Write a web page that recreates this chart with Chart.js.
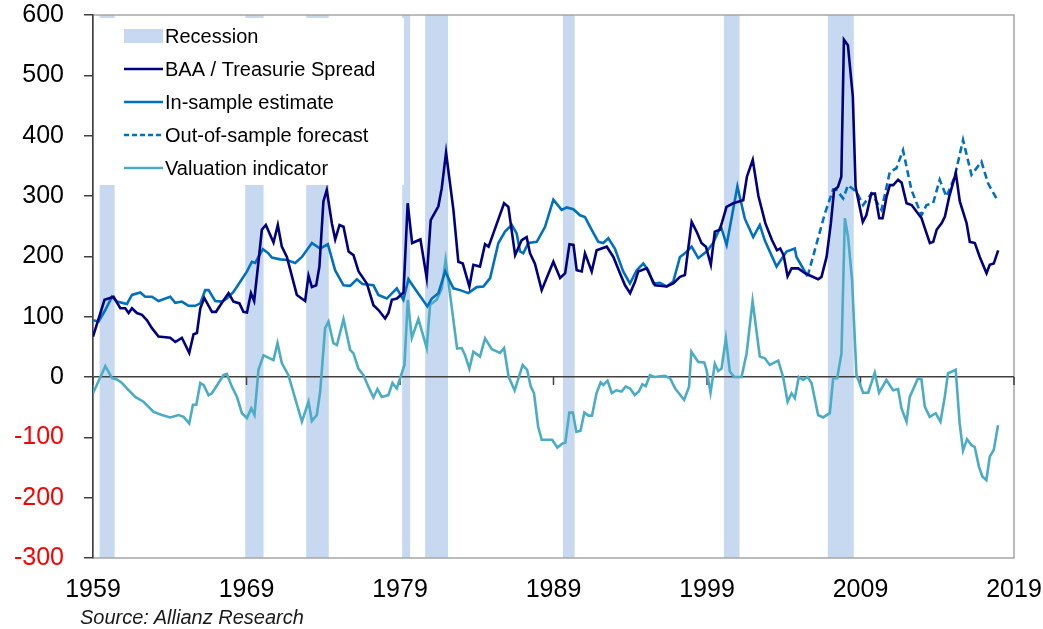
<!DOCTYPE html>
<html>
<head>
<meta charset="utf-8">
<script src="https://cdn.jsdelivr.net/npm/chart.js@4.4.1/dist/chart.umd.min.js"></script>
<style>
  html, body { margin: 0; padding: 0; background: #fff; }
  #wrap { position: relative; width: 1043px; height: 629px; }
  #source { position: absolute; left: 80px; top: 606px; font: italic 20px "Liberation Sans", Arial, sans-serif; color: #1a1a1a; }
</style>
</head>
<body>
<div id="wrap">
  <canvas id="chart"></canvas>
  <div id="source">Source: Allianz Research</div>
</div>
<script>
// x axis labels and recession shading (years as placed on the chart)
const tickYears = [1959, 1969, 1979, 1989, 1999, 2009, 2019];
const recessionStart = [1959.43, 1968.92, 1972.89, 1979.14, 1980.64, 1989.62, 2000.10, 2006.87];
const recessionEnd   = [1960.41, 1970.11, 1974.36, 1979.66, 1982.13, 1990.38, 2001.12, 2008.56];

const legendLabels = ['Recession', 'BAA / Treasurie Spread', 'In-sample estimate', 'Out-of-sample forecast', 'Valuation indicator'];

// BAA / Treasury spread (bp)
const baaYears = [1959.00,1959.75,1960.34,1960.78,1961.10,1961.32,1961.54,1961.86,1962.19,1962.52,1962.84,1963.27,1964.03,1964.36,1964.79,1965.27,1965.55,1965.77,1965.99,1966.25,1966.75,1967.01,1967.40,1967.83,1968.15,1968.54,1968.80,1969.03,1969.29,1969.50,1969.78,1970.00,1970.26,1970.76,1971.04,1971.30,1971.63,1972.28,1972.82,1973.04,1973.26,1973.54,1973.75,1974.01,1974.23,1974.56,1974.78,1975.06,1975.32,1975.65,1975.97,1976.30,1976.84,1977.27,1977.60,1978.03,1978.25,1978.47,1978.80,1979.23,1979.50,1979.79,1980.33,1980.74,1981.00,1981.50,1981.72,1982.00,1982.48,1982.80,1983.09,1983.52,1983.78,1984.21,1984.54,1984.77,1985.08,1985.78,1986.06,1986.50,1986.93,1987.25,1987.47,1987.79,1988.23,1988.99,1989.43,1989.76,1990.04,1990.30,1990.51,1990.84,1991.05,1991.49,1991.81,1992.47,1992.90,1993.33,1993.66,1993.99,1994.31,1994.52,1995.07,1995.28,1995.61,1996.37,1996.80,1997.24,1997.56,1998.00,1998.32,1998.64,1998.93,1999.25,1999.51,1999.84,2000.27,2000.71,2001.36,2001.60,2001.98,2002.35,2002.80,2003.23,2003.56,2003.77,2003.99,2004.25,2004.51,2004.94,2005.38,2005.81,2006.24,2006.46,2006.79,2007.07,2007.28,2007.53,2007.75,2007.92,2008.18,2008.50,2008.68,2009.15,2009.38,2009.70,2009.94,2010.22,2010.44,2010.70,2010.91,2011.13,2011.45,2011.68,2012.00,2012.33,2012.66,2012.98,2013.20,2013.52,2013.74,2013.96,2014.29,2014.50,2014.78,2015.21,2015.47,2015.91,2016.12,2016.45,2016.77,2017.21,2017.42,2017.68,2017.97];
const baaValues = [67,128,133,114,114,106,114,106,103,94,81,67,65,58,65,40,71,73,114,131,108,108,123,139,125,122,108,107,139,126,191,244,252,223,252,216,199,136,126,168,149,152,183,291,310,255,228,252,249,208,202,175,155,119,111,97,106,128,130,140,288,222,228,164,260,283,313,372,277,191,188,150,186,183,220,216,238,288,282,202,227,232,205,188,144,191,164,172,220,219,177,175,205,175,210,216,199,172,152,139,158,175,180,169,152,150,155,166,169,257,241,222,216,186,241,244,282,288,293,332,360,300,255,227,210,213,202,167,180,180,172,167,162,166,199,255,310,315,332,559,550,465,315,257,268,304,304,263,263,299,318,318,327,322,288,285,274,263,246,222,224,244,255,266,299,338,291,255,224,222,199,172,186,188,210];

// In-sample estimate
const inSampleYears = [1959.00,1959.36,1959.80,1960.24,1960.56,1961.21,1961.54,1962.08,1962.40,1962.84,1963.27,1964.03,1964.36,1964.79,1965.22,1965.66,1965.99,1966.31,1966.53,1966.96,1967.40,1967.72,1968.15,1968.59,1969.03,1969.35,1969.57,1969.78,1970.07,1970.43,1970.65,1971.19,1971.63,1972.17,1972.61,1973.26,1973.80,1974.30,1974.77,1975.32,1975.75,1976.19,1976.55,1977.27,1977.59,1978.14,1978.79,1979.22,1979.55,1979.87,1980.42,1980.78,1981.07,1981.50,1981.94,1982.48,1982.91,1983.45,1984.00,1984.43,1984.87,1985.41,1985.84,1986.28,1986.60,1986.82,1987.03,1987.36,1987.91,1988.45,1988.99,1989.53,1989.86,1990.29,1990.73,1991.05,1991.49,1991.92,1992.24,1992.57,1993.00,1993.54,1993.98,1994.42,1994.85,1995.17,1995.50,1995.93,1996.37,1996.80,1997.24,1997.56,1998.00,1998.43,1998.97,1999.40,1999.90,2000.28,2000.98,2001.47,2002.01,2002.44,2002.77,2003.53,2004.18,2004.72,2004.83,2005.55];
const inSampleValues = [94,92,111,133,125,121,136,140,133,133,126,133,123,125,118,118,122,144,144,126,125,130,141,158,175,191,189,199,212,205,198,195,194,189,199,222,213,220,177,152,151,162,154,152,136,130,147,128,162,150,130,117,130,139,175,147,144,139,149,150,164,222,241,252,238,208,205,222,224,249,294,277,281,278,268,265,244,224,222,230,213,175,155,177,188,177,155,156,150,158,199,205,216,197,208,222,250,219,316,262,232,252,226,183,208,213,199,167];

// Out-of-sample forecast
const forecastYears = [2005.55,2006.14,2006.68,2007.22,2007.44,2007.87,2008.19,2008.74,2009.17,2009.72,2010.37,2010.91,2011.34,2011.77,2012.32,2012.97,2013.30,2013.73,2014.16,2014.60,2015.14,2015.68,2016.23,2016.88,2017.31,2017.96];
const forecastValues = [167,221,271,311,310,296,318,307,285,304,277,340,346,376,310,268,285,288,327,299,332,393,335,357,321,291];

// Valuation indicator
const valuationYears = [1959.00,1959.80,1960.24,1960.56,1960.89,1961.21,1961.75,1962.29,1962.95,1963.49,1964.03,1964.57,1964.90,1965.27,1965.51,1965.73,1965.99,1966.20,1966.53,1966.75,1967.50,1967.72,1968.05,1968.38,1968.70,1969.03,1969.31,1969.52,1969.78,1970.11,1970.76,1971.02,1971.30,1971.73,1972.61,1973.04,1973.26,1973.58,1973.80,1974.12,1974.34,1974.66,1974.89,1975.32,1975.75,1975.97,1976.29,1976.62,1976.94,1977.27,1977.53,1977.81,1978.24,1978.51,1978.79,1979.29,1979.51,1979.77,1980.20,1980.74,1980.96,1981.40,1981.72,1981.97,1982.72,1983.02,1983.24,1983.52,1983.78,1984.21,1984.54,1984.98,1985.52,1985.78,1986.08,1986.47,1986.99,1987.28,1987.51,1987.73,1988.00,1988.23,1988.91,1989.25,1989.59,1989.77,1990.03,1990.26,1990.49,1990.76,1991.01,1991.28,1991.51,1991.80,1992.07,1992.25,1992.52,1992.80,1993.09,1993.43,1993.70,1993.99,1994.29,1994.56,1994.79,1995.01,1995.28,1995.58,1996.25,1996.59,1996.93,1997.51,1997.83,1997.98,1998.43,1998.82,1998.97,1999.23,1999.51,1999.73,1999.95,2000.23,2000.49,2000.77,2001.25,2001.58,2001.97,2002.44,2002.77,2003.09,2003.64,2003.96,2004.25,2004.51,2004.72,2004.98,2005.26,2005.55,2005.81,2006.24,2006.56,2007.00,2007.22,2007.48,2007.76,2007.98,2008.19,2008.45,2008.74,2009.17,2009.50,2009.93,2010.21,2010.69,2011.12,2011.45,2011.67,2012.00,2012.21,2012.75,2012.97,2013.19,2013.51,2013.90,2014.21,2014.49,2014.70,2015.20,2015.46,2015.68,2015.94,2016.23,2016.44,2016.72,2016.94,2017.20,2017.42,2017.68,2017.96];
const valuationValues = [-27,18,-2,-4,-10,-19,-33,-41,-58,-63,-67,-63,-66,-77,-46,-46,-10,-13,-30,-27,3,5,-16,-33,-60,-68,-52,-63,12,36,28,56,23,3,-74,-41,-73,-63,-24,81,92,56,53,96,45,39,14,3,-16,-34,-20,-33,-30,-10,-19,20,128,65,96,48,120,128,147,194,47,48,36,14,42,34,64,46,40,48,0,-22,20,12,-15,-27,-82,-104,-104,-117,-110,-109,-59,-59,-91,-89,-59,-64,-64,-27,-9,-13,-6,-27,-22,-24,-16,-19,-30,-24,-12,-15,3,0,2,-2,-19,-38,-16,42,25,24,12,-26,22,10,14,64,9,0,0,39,126,34,31,20,27,0,-41,-27,-35,0,-5,0,-10,-63,-67,-60,-2,-2,39,263,232,161,3,-26,-26,7,-26,-5,-22,-20,-52,-74,-33,-2,-4,-49,-66,-60,-74,-33,6,12,-77,-122,-103,-113,-116,-149,-165,-171,-132,-121,-80];

const C_BAA = '#000080', C_EST = '#0070C0', C_VAL = '#4BACC6', C_REC = '#C6D9F1';
const FONT = '"Liberation Sans", Arial, sans-serif';

const pairs = (xs, ys) => xs.map((x, i) => ({ x: x, y: ys[i] }));

const decor = {
  id: 'decor',
  beforeDraw(chart) {
    const { ctx, chartArea: a, scales: { x } } = chart;
    ctx.save();
    ctx.fillStyle = C_REC;
    recessionStart.forEach((s, i) => {
      const x0 = x.getPixelForValue(s), x1 = x.getPixelForValue(recessionEnd[i]);
      ctx.fillRect(x0, a.top, x1 - x0, a.bottom - a.top);
    });
    ctx.strokeStyle = '#A6A6A6';
    ctx.lineWidth = 1.5;
    ctx.strokeRect(a.left, a.top, a.right - a.left, a.bottom - a.top);
    ctx.restore();
  },
  beforeDatasetsDraw(chart) {
    const { ctx, scales: { x, y } } = chart;
    const y0 = y.getPixelForValue(0);
    ctx.save();
    ctx.strokeStyle = '#404040';
    ctx.lineWidth = 1.5;
    ctx.beginPath();
    tickYears.forEach(t => {
      const px = x.getPixelForValue(t);
      ctx.moveTo(px, y0);
      ctx.lineTo(px, y0 + 8);
    });
    ctx.stroke();
    ctx.restore();
  },
  afterDatasetsDraw(chart) {
    const ctx = chart.ctx;
    ctx.save();
    ctx.fillStyle = '#fff';
    ctx.fillRect(97, 18, 307, 167);
    ctx.font = '20px ' + FONT;
    ctx.textBaseline = 'middle';
    const rows = [36, 69, 102, 135, 168];
    const colors = [C_REC, C_BAA, C_EST, C_EST, C_VAL];
    rows.forEach((ry, i) => {
      if (i === 0) {
        ctx.fillStyle = C_REC;
        ctx.fillRect(124, ry - 7, 39, 14);
      } else {
        ctx.strokeStyle = colors[i];
        ctx.lineWidth = 2.5;
        ctx.setLineDash(i === 3 ? [5, 3] : []);
        ctx.beginPath();
        ctx.moveTo(124, ry);
        ctx.lineTo(163, ry);
        ctx.stroke();
        ctx.setLineDash([]);
      }
      ctx.fillStyle = '#000';
      ctx.fillText(legendLabels[i], 165, ry + 1);
    });
    ctx.restore();
  }
};

new Chart(document.getElementById('chart'), {
  type: 'line',
  data: {
    datasets: [
      { label: legendLabels[1], data: pairs(baaYears, baaValues), borderColor: C_BAA, borderWidth: 2.6 },
      { label: legendLabels[3], data: pairs(forecastYears, forecastValues), borderColor: C_EST, borderWidth: 2.6, borderDash: [7, 4] },
      { label: legendLabels[2], data: pairs(inSampleYears, inSampleValues), borderColor: C_EST, borderWidth: 2.6 },
      { label: legendLabels[4], data: pairs(valuationYears, valuationValues), borderColor: C_VAL, borderWidth: 2.6 }
    ]
  },
  options: {
    responsive: true,
    maintainAspectRatio: false,
    animation: false,
    elements: { point: { radius: 0 }, line: { tension: 0 } },
    layout: { padding: { top: 15, right: 29, left: 0, bottom: 0 } },
    plugins: { legend: { display: false }, tooltip: { enabled: false } },
    scales: {
      x: {
        type: 'linear',
        min: 1959,
        max: 2019,
        afterBuildTicks: axis => { axis.ticks = tickYears.map(v => ({ value: v })); },
        afterFit: s => { s.height = 71; s.paddingLeft = 0; s.paddingRight = 0; },
        grid: { display: false, drawTicks: false },
        border: { display: false },
        ticks: { color: '#000', font: { family: FONT, size: 25 }, padding: 17, maxRotation: 0, callback: v => String(v) }
      },
      y: {
        min: -300,
        max: 600,
        afterFit: s => { s.width = 93; s.paddingTop = 0; s.paddingBottom = 0; },
        ticks: {
          stepSize: 100,
          padding: 20,
          font: { family: FONT, size: 25 },
          color: c => c.tick.value < 0 ? '#FF0000' : '#000'
        },
        grid: {
          color: c => c.tick && c.tick.value === 0 ? '#404040' : 'rgba(0,0,0,0)',
          lineWidth: 1.5,
          tickColor: '#404040',
          tickLength: 9
        },
        border: { color: '#404040', width: 1.5 }
      }
    }
  },
  plugins: [decor]
});
</script>
</body>
</html>
